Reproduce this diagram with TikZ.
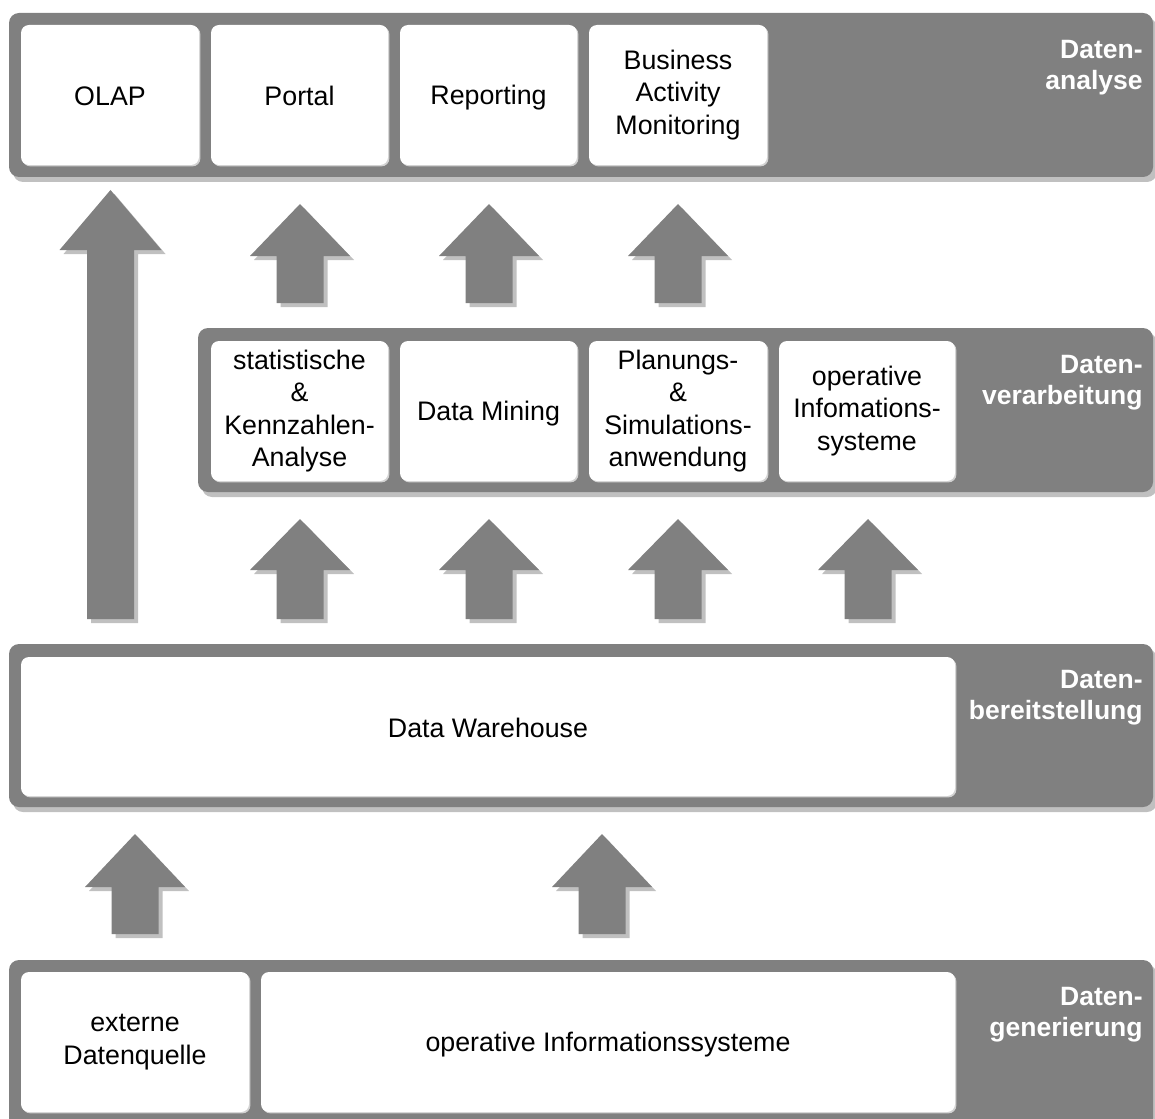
\documentclass[tikz,border=0pt]{standalone}
\usepackage{fontspec}
\setmainfont{Liberation Sans}
\usetikzlibrary{shadows}

\definecolor{bandgray}{HTML}{808080}
\definecolor{shadegray}{HTML}{C0C0C0}
\definecolor{edgegray}{HTML}{D2D2D2}

% fixed line height so that every box centres its text the same way
\newcommand\boxstrut{\rule[-1.5pt]{0pt}{14pt}}

\tikzset{
  band/.style={fill=bandgray, rounded corners=5pt, inner sep=0pt,
    drop shadow={shadow xshift=2pt, shadow yshift=-2.5pt, fill=shadegray, opacity=1}},
  box/.style={fill=white, rounded corners=4pt, inner sep=0pt, align=center,
    font=\fontsize{13.4}{16.25}\selectfont,
    execute at begin node=\boxstrut, execute at end node=\boxstrut,
    drop shadow={shadow xshift=0.7pt, shadow yshift=-0.7pt, fill=edgegray, opacity=1}},
  layerlabel/.style={anchor=north east, inner sep=0pt, align=right, text=white,
    font=\bfseries\fontsize{13.25}{15.5}\selectfont},
}

% block arrow pointing up: centre x, tip y, head base y, bottom y, head half-width
\newcommand\UpBlockArrow[5]{%
  \foreach \off/\clr in {4/shadegray,0/bandgray}{%
    \fill[\clr, shift={(\off,\off)}] (#1,#2) -- ({#1+#5},#3) -- ({#1+23.5},#3)
      -- ({#1+23.5},#4) -- ({#1-23.5},#4) -- ({#1-23.5},#3) -- ({#1-#5},#3) -- cycle;
  }%
}

\begin{document}
\begin{tikzpicture}[x=0.5pt, y=-0.5pt]
\useasboundingbox (0,0) rectangle (1155,1118);
\clip (0,0) rectangle (1155,1118);

% --- layer: Datenanalyse
\node[band, minimum width=572pt, minimum height=82pt] (analyse) at (581,95) {};
\node[box, minimum width=89pt, minimum height=70pt] (olap) at (110,95) {OLAP};
\node[box, minimum width=88.5pt, minimum height=70pt] (portal) at (299.5,95) {Portal};
\node[box, minimum width=88.5pt, minimum height=70pt] (reporting) at (488.5,95) {Reporting};
\node[box, minimum width=89pt, minimum height=70pt] (bam) at (678,95) {Business\\Activity\\Monitoring};
\node[layerlabel] (lanalyse) at (1143,40) {Daten-\\analyse};

% --- layer: Datenverarbeitung
\node[band, minimum width=477.5pt, minimum height=82pt] (verarb) at (675.5,410) {};
\node[box, minimum width=88.5pt, minimum height=70pt] (stat) at (299.5,411) {statistische\\\&\\Kennzahlen-\\Analyse};
\node[box, minimum width=88.5pt, minimum height=70pt] (mining) at (488.5,411) {Data Mining};
\node[box, minimum width=89pt, minimum height=70pt] (plan) at (678,411) {Planungs-\\\&\\Simulations-\\anwendung};
\node[box, minimum width=88pt, minimum height=70pt] (opinfo) at (867,411) {operative\\Infomations-\\systeme};
\node[layerlabel] (lverarb) at (1143,355) {Daten-\\verarbeitung};

% --- layer: Datenbereitstellung
\node[band, minimum width=572pt, minimum height=81.5pt] (bereit) at (581,725.5) {};
\node[box, minimum width=467pt, minimum height=69.5pt] (dwh) at (488,726.5) {Data Warehouse};
\node[layerlabel] (lbereit) at (1143,670) {Daten-\\bereitstellung};

% --- layer: Datengenerierung
\node[band, minimum width=572pt, minimum height=84pt] (gener) at (581,1044) {};
\node[box, minimum width=114pt, minimum height=70pt] (extern) at (135,1042) {externe\\Datenquelle};
\node[box, minimum width=347pt, minimum height=70pt] (opsys) at (608,1042) {operative Informationssysteme};
\node[layerlabel] (lgener) at (1143,987) {Daten-\\generierung};

% --- flow arrows
\UpBlockArrow{110.5}{190}{250}{619}{51}
\UpBlockArrow{300}{204}{256}{303}{50}
\UpBlockArrow{489}{204}{256}{303}{50}
\UpBlockArrow{678}{204}{256}{303}{50}
\UpBlockArrow{300}{519}{570}{619}{50}
\UpBlockArrow{489}{519}{570}{619}{50}
\UpBlockArrow{678}{519}{570}{619}{50}
\UpBlockArrow{868}{519}{570}{619}{50}
\UpBlockArrow{135}{834}{887}{934}{50}
\UpBlockArrow{602}{834}{887}{934}{50}
\end{tikzpicture}
\end{document}
